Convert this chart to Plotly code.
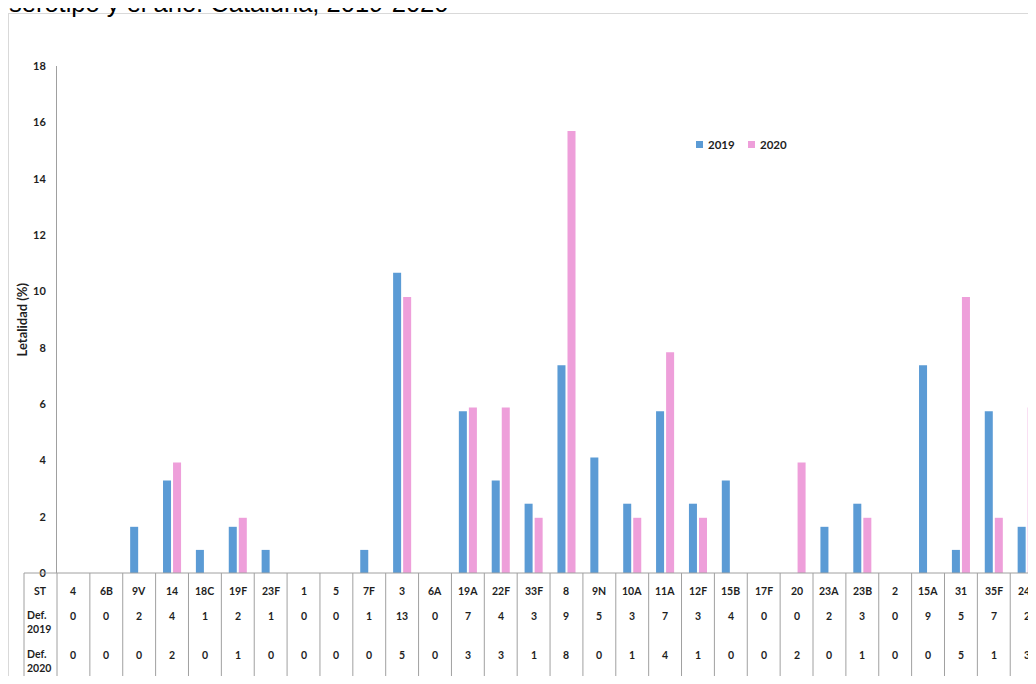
import plotly.graph_objects as go

# ---- data ----
serotypes = ["4", "6B", "9V", "14", "18C", "19F", "23F", "1", "5", "7F", "3", "6A",
             "19A", "22F", "33F", "8", "9N", "10A", "11A", "12F", "15B", "17F", "20",
             "23A", "23B", "2", "15A", "31", "35F", "24F"]
letalidad_2019 = [0, 0, 1.64, 3.28, 0.82, 1.64, 0.82, 0, 0, 0.82, 10.66, 0,
                  5.74, 3.28, 2.46, 7.38, 4.10, 2.46, 5.74, 2.46, 3.28, 0, 0,
                  1.64, 2.46, 0, 7.38, 0.82, 5.74, 1.64]
letalidad_2020 = [0, 0, 0, 3.92, 0, 1.96, 0, 0, 0, 0, 9.80, 0,
                  5.88, 5.88, 1.96, 15.69, 0, 1.96, 7.84, 1.96, 0, 0, 3.92,
                  0, 1.96, 0, 0, 9.80, 1.96, 5.88]
def_2019 = [0, 0, 2, 4, 1, 2, 1, 0, 0, 1, 13, 0, 7, 4, 3, 9, 5, 3, 7, 3, 4, 0, 0, 2, 3, 0, 9, 5, 7, 2]
def_2020 = [0, 0, 0, 2, 0, 1, 0, 0, 0, 0, 5, 0, 3, 3, 1, 8, 0, 1, 4, 1, 0, 0, 2, 0, 1, 0, 0, 5, 1, 3]
y_ticks = [0, 2, 4, 6, 8, 10, 12, 14, 16, 18]
series_names = ["2019", "2020"]
title_text = "serotipo y el año. Cataluña, 2019-2020"
y_title = "Letalidad (%)"
row_labels = ["ST", "Def.<br>2019", "Def.<br>2020"]

# ---- layout geometry (page is offset by the 8px body margin) ----
OFF = 8
FW, FH = 1028, 668
ML, MR, MT, MB = 49, 0, 58, 103
PW, PH = FW - ML - MR, FH - MT - MB
COLW = 32.87
XMIN = -0.5
XMAX = XMIN + PW / COLW


def pxx(p):
    """page x pixel -> paper x"""
    return (p - OFF - ML) / PW


def pxy(p):
    """page y pixel -> paper y"""
    return (FH - MB - (p - OFF)) / PH


def catx(v):
    """category-axis value -> paper x"""
    return (v - XMIN) / (XMAX - XMIN)


BLUE = "#5B9BD5"
PINK = "#EE9FDA"
GRID = "#A0A0A0"
TXT = "#1E1E1E"
FONT = "Lato"

fig = go.Figure()
fig.add_trace(go.Bar(x=serotypes, y=letalidad_2019, name=series_names[0],
                     marker_color=BLUE, marker_line_width=0))
fig.add_trace(go.Bar(x=serotypes, y=letalidad_2020, name=series_names[1],
                     marker_color=PINK, marker_line_width=0))

shapes = []
# outer frame
shapes.append(dict(type="line", xref="paper", yref="paper", x0=pxx(8.5), x1=pxx(8.5),
                   y0=pxy(13), y1=pxy(FH + 40), line=dict(color="#D9D9D9", width=1)))
shapes.append(dict(type="line", xref="paper", yref="paper", x0=pxx(8.5), x1=pxx(FW + 40),
                   y0=pxy(13.5), y1=pxy(13.5), line=dict(color="#D9D9D9", width=1)))
# table top line (x-axis line)
shapes.append(dict(type="line", xref="paper", yref="paper", x0=pxx(24), x1=1.02,
                   y0=0, y1=0, line=dict(color=GRID, width=1)))
# table vertical lines
table_bottom = pxy(680)
shapes.append(dict(type="line", xref="paper", yref="paper", x0=pxx(24), x1=pxx(24),
                   y0=0, y1=table_bottom, line=dict(color=GRID, width=1)))
for i in range(len(serotypes)):
    xb = catx(i - 0.5)
    shapes.append(dict(type="line", xref="paper", yref="paper", x0=xb, x1=xb,
                       y0=0, y1=table_bottom, line=dict(color=GRID, width=1)))
# legend swatches
for x0, col in ((696, BLUE), (748, PINK)):
    shapes.append(dict(type="rect", xref="paper", yref="paper", x0=pxx(x0), x1=pxx(x0 + 7),
                       y0=pxy(141), y1=pxy(148), fillcolor=col, line=dict(width=0)))

annotations = []
tfont = dict(family=FONT, size=10.5, color=TXT, weight="bold")
row_y = [pxy(591), pxy(616), pxy(655)]
for i, s in enumerate(serotypes):
    for r, txt in enumerate((s, str(def_2019[i]), str(def_2020[i]))):
        annotations.append(dict(x=catx(i), xref="paper", y=row_y[r], yref="paper", text=txt,
                                showarrow=False, font=tfont, xanchor="center",
                                yanchor="middle"))
# row labels
annotations.append(dict(x=pxx(40.5), xref="paper", y=row_y[0], yref="paper", text=row_labels[0],
                        showarrow=False, font=tfont, xanchor="center", yanchor="middle"))
annotations.append(dict(x=pxx(25), xref="paper", y=pxy(622), yref="paper", text=row_labels[1],
                        showarrow=False, font=tfont, xanchor="left", yanchor="middle", align="left"))
annotations.append(dict(x=pxx(25), xref="paper", y=pxy(661), yref="paper", text=row_labels[2],
                        showarrow=False, font=tfont, xanchor="left", yanchor="middle", align="left"))
# title (cut off at top)
annotations.append(dict(x=pxx(7), xref="paper", y=pxy(3), yref="paper", text=title_text,
                        showarrow=False, xanchor="left", yanchor="middle",
                        font=dict(family="Liberation Sans", size=25.5, color="#000000")))
# y-axis title
annotations.append(dict(x=pxx(21.5), xref="paper", y=pxy(320), yref="paper", text=y_title,
                        textangle=-90, showarrow=False, xanchor="center", yanchor="middle",
                        font=dict(family=FONT, size=13, color=TXT, weight="bold")))
# legend labels
lfont = dict(family=FONT, size=11.5, color=TXT, weight="bold")
for x0, name in ((706, series_names[0]), (758, series_names[1])):
    annotations.append(dict(x=pxx(x0), xref="paper", y=pxy(144.5), yref="paper", text=name,
                            showarrow=False, xanchor="left", yanchor="middle", font=lfont))

fig.update_layout(
    width=FW, height=FH,
    margin=dict(l=ML, r=MR, t=MT, b=MB, pad=0),
    paper_bgcolor="white", plot_bgcolor="white",
    barmode="group", bargap=0.39, bargroupgap=0.2,
    showlegend=False,
    shapes=shapes, annotations=annotations,
    xaxis=dict(type="category", categoryorder="array", categoryarray=serotypes,
               range=[XMIN, XMAX], showticklabels=False, showgrid=False,
               showline=False, zeroline=False, ticks=""),
    yaxis=dict(range=[0, 18], tickvals=y_ticks, ticktext=[str(v) for v in y_ticks],
               showgrid=False, zeroline=False, showline=True, linecolor=GRID, linewidth=1,
               ticks="outside", ticklen=8, tickcolor="rgba(0,0,0,0)",
               tickfont=dict(family=FONT, size=11, color=TXT, weight="bold")),
)

fig.write_html("out.html")
